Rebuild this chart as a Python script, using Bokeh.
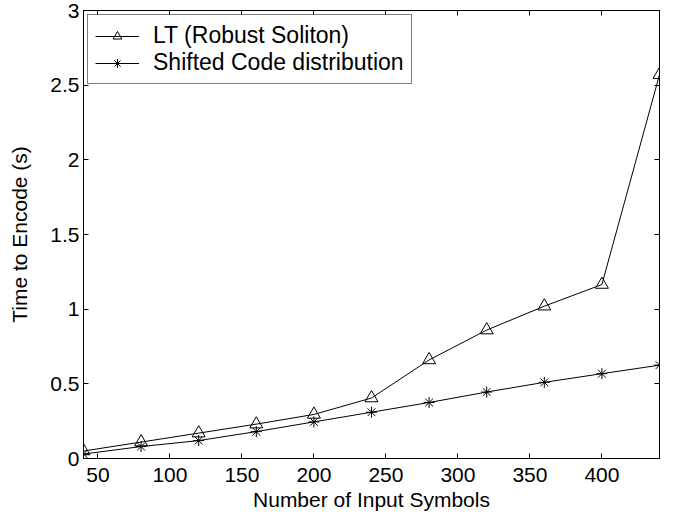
from bokeh.plotting import figure
from bokeh.models import LinearAxis, FixedTicker, Range1d, Legend, LegendItem
from bokeh.embed import file_html
from bokeh.resources import INLINE

symbols = [40, 80, 120, 160, 200, 240, 280, 320, 360, 400, 440]
lt_robust = [0.05, 0.11, 0.17, 0.23, 0.295, 0.405, 0.66, 0.86, 1.02, 1.165, 2.57]
shifted = [0.03, 0.08, 0.12, 0.18, 0.245, 0.31, 0.375, 0.445, 0.51, 0.568, 0.625]
x_ticks = [50, 100, 150, 200, 250, 300, 350, 400]
y_ticks = [0, 0.5, 1, 1.5, 2, 2.5, 3]
y_tick_labels = {0: "0", 0.5: "0.5", 1: "1", 1.5: "1.5", 2: "2", 2.5: "2.5", 3: "3"}

FONT = "Liberation Sans"
FS = "21px"

p = figure(frame_width=576, frame_height=448, output_backend="svg", toolbar_location=None,
           x_range=Range1d(40, 440), y_range=Range1d(0, 3),
           min_border_left=83, min_border_right=3, min_border_top=10, min_border_bottom=48,
           background_fill_color="white", border_fill_color="white")
p.grid.visible = False
p.outline_line_color = "black"
p.outline_line_width = 1

def style_axis(ax, ticks, show_labels):
    ax.ticker = FixedTicker(ticks=ticks)
    ax.major_tick_in = 5
    ax.major_tick_out = 0
    ax.minor_tick_line_color = None
    ax.axis_line_color = "black"
    ax.major_tick_line_color = "black"
    ax.major_label_text_font = FONT
    ax.major_label_text_color = "black"
    ax.axis_label_text_font = FONT
    ax.axis_label_text_font_style = "normal"
    ax.axis_label_text_color = "black"
    ax.major_label_text_font_size = FS
    ax.axis_label_text_font_size = FS
    if not show_labels:
        ax.major_label_overrides = {t: "" for t in ticks}
        ax.major_label_standoff = 0

style_axis(p.xaxis[0], x_ticks, True)
style_axis(p.yaxis[0], y_ticks, True)
p.xaxis[0].axis_label = "Number of Input Symbols"
p.yaxis[0].axis_label = "Time to Encode (s)"
p.yaxis[0].major_label_overrides = y_tick_labels
p.xaxis[0].major_label_standoff = 9
p.xaxis[0].axis_label_standoff = 3
p.yaxis[0].major_label_standoff = 4
p.yaxis[0].axis_label_standoff = 16

top = LinearAxis()
style_axis(top, x_ticks, False)
p.add_layout(top, "above")
right = LinearAxis()
style_axis(right, y_ticks, False)
p.add_layout(right, "right")

l1 = p.line(symbols, lt_robust, line_color="black", line_width=1)
m1 = p.scatter(symbols, lt_robust, marker="triangle", size=13, fill_color=None,
               line_color="black", line_width=1)
l2 = p.line(symbols, shifted, line_color="black", line_width=1)
m2 = p.scatter(symbols, shifted, marker="asterisk", size=11, line_color="black", line_width=1)

legend = Legend(items=[LegendItem(label="LT (Robust Soliton)", renderers=[l1, m1]),
                       LegendItem(label="Shifted Code distribution", renderers=[l2, m2])],
                location="top_left")
legend.margin = 4
legend.padding = 7
legend.spacing = 0
legend.glyph_width = 44
legend.glyph_height = 22
legend.label_height = 22
legend.label_standoff = 14
legend.label_text_font = FONT
legend.label_text_font_size = "23px"
legend.label_text_color = "black"
legend.border_line_color = "black"
legend.border_line_width = 1
legend.background_fill_color = "white"
legend.background_fill_alpha = 1
p.add_layout(legend)

open("out.html", "w").write(file_html(p, INLINE))
